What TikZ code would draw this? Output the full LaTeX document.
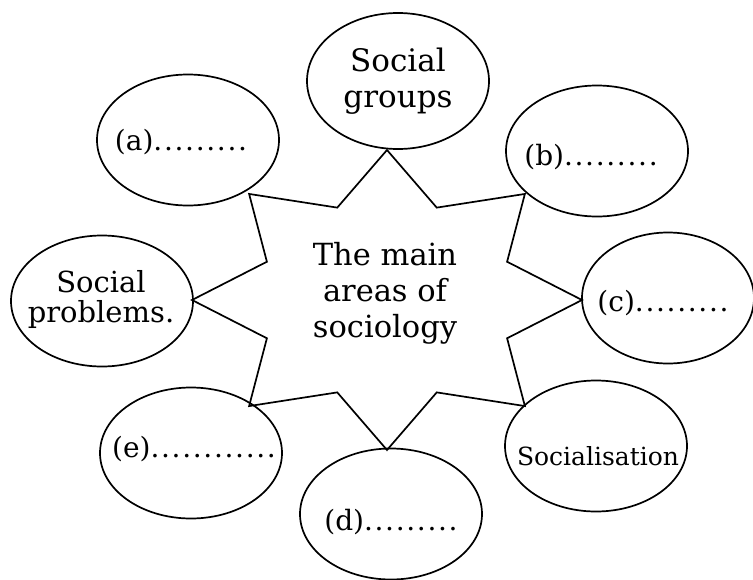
\documentclass[tikz,border=0pt]{standalone}
\usepackage{fontspec}
\setmainfont{DejaVu Serif}
\usetikzlibrary{shapes.geometric}
\newcommand{\blankdots}[1]{{\addfontfeature{LetterSpace=6}#1}}
\tikzset{
  area/.style={draw, line width=1.7pt, ellipse, minimum width=182pt, minimum height=131pt, inner sep=0pt},
  areatext/.style={anchor=base, inner sep=0pt, align=center, font=\fontsize{28}{30}\selectfont},
}
\begin{document}
\begin{tikzpicture}[x=1pt, y=-1pt]
    \useasboundingbox (0,0) rectangle (753,579);
    % Star: 8 outer points and 8 inner corners
    \foreach \i in {0,...,7} {
        \coordinate (p\i) at ({387+195*cos(45*\i)}, {300-150*sin(45*\i)});
        \coordinate (q\i) at ({387+130*cos(45*\i+22.5)}, {300-100*sin(45*\i+22.5)});
    }
    \draw[line width=1.7pt, line join=miter] (p0) -- (q0) -- (p1) -- (q1) -- (p2) -- (q2) -- (p3) -- (q3)
        -- (p4) -- (q4) -- (p5) -- (q5) -- (p6) -- (q6) -- (p7) -- (q7) -- cycle;
    % base of a multi-line node is the last line
    \node[areatext, font=\fontsize{30.5}{36}\selectfont] (main) at (385,337) {The main\\areas of\\sociology};
    % Areas round the star
    \node[area, minimum height=136pt] (groups) at (398,81) {};
    \node[area] (a) at (188,140) {};
    \node[area] (b) at (597,151) {};
    \node[area] (problems) at (102,301) {};
    \node[area, minimum width=172pt] (c) at (668,298) {};
    \node[area] (e) at (191,453) {};
    \node[area] (d) at (391,514) {};
    \node[area] (socialisation) at (596,446) {};
    % Labels
    \node[areatext, font=\fontsize{31}{36}\selectfont] at (398,107) {Social\\groups};
    \node[areatext] at (181,150) {(a)\blankdots{.........}};
    \node[areatext] at (591,165) {(b)\blankdots{.........}};
    \node[areatext, font=\fontsize{29}{30}\selectfont] at (101,322) {Social\\problems.};
    \node[areatext] at (663,311) {(c)\blankdots{.........}};
    \node[areatext, font=\fontsize{25}{30}\selectfont] at (598,465) {Socialisation};
    \node[areatext] at (194,457) {(e)\blankdots{............}};
    \node[areatext] at (391,530) {(d)\blankdots{.........}};
\end{tikzpicture}
\end{document}
